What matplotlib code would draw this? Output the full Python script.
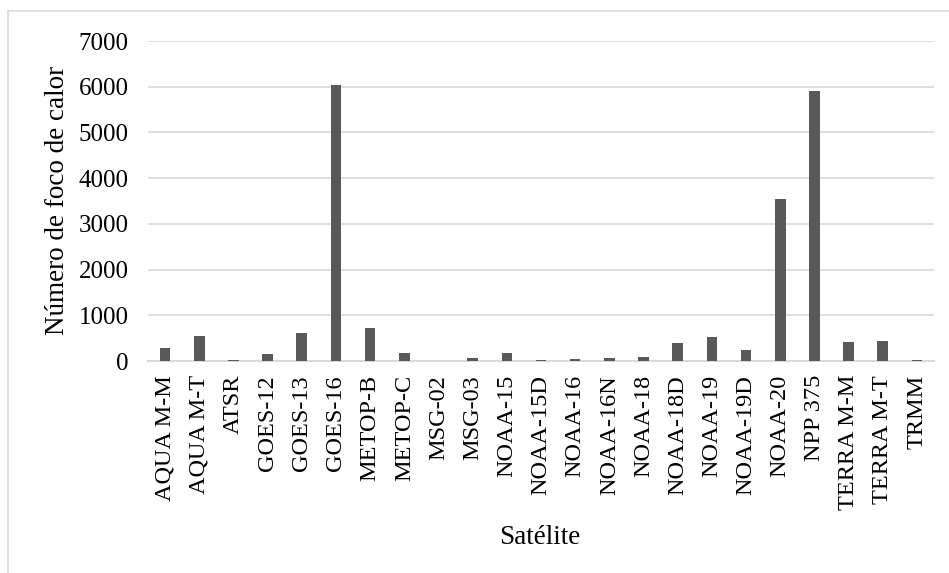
import matplotlib
matplotlib.use("Agg")
import matplotlib.pyplot as plt
from matplotlib.lines import Line2D

satelites = ["AQUA M-M", "AQUA M-T", "ATSR", "GOES-12", "GOES-13", "GOES-16",
             "METOP-B", "METOP-C", "MSG-02", "MSG-03", "NOAA-15", "NOAA-15D",
             "NOAA-16", "NOAA-16N", "NOAA-18", "NOAA-18D", "NOAA-19", "NOAA-19D",
             "NOAA-20", "NPP 375", "TERRA M-M", "TERRA M-T", "TRMM"]
focos = [290, 545, 20, 145, 610, 6030,
         712, 168, 0, 65, 168, 15,
         44, 65, 80, 400, 515, 233,
         3545, 5900, 407, 436, 15]
yticks = [0, 1000, 2000, 3000, 4000, 5000, 6000, 7000]

plt.rcParams['font.family'] = ['Liberation Serif', 'DejaVu Serif']

fig = plt.figure(figsize=(9.49, 5.73), dpi=100)
ax = fig.add_axes([148 / 949, 1 - 361 / 573, 786 / 949, 320 / 573])

x = list(range(len(satelites)))
ax.bar(x, focos, width=0.31, color="#595959", zorder=3)

ax.set_xlim(-0.5, len(satelites) - 0.5)
ax.set_ylim(0, 7000)
ax.set_yticks(yticks)
ax.set_xticks(x)
ax.set_xticklabels(satelites, rotation=90, fontsize=17.5)
ax.tick_params(axis="y", labelsize=18, length=0, pad=14)
ax.tick_params(axis="x", length=0, pad=10)
ax.grid(axis="y", color="#d9d9d9", linewidth=1.2, zorder=0)

for s in ["top", "right", "left"]:
    ax.spines[s].set_visible(False)
ax.spines["bottom"].set_color("#d9d9d9")
ax.spines["bottom"].set_linewidth(1.5)

fig.text(58 / 949, 1 - 200 / 573, "Número de foco de calor", fontsize=19.5,
         rotation=90, ha="center", va="center")
fig.text(540 / 949, 1 - 538 / 573, "Satélite", fontsize=19.5, ha="center", va="center")

# moldura do gráfico
fig.add_artist(Line2D([7.5 / 949, 7.5 / 949], [0, 1 - 11 / 573], color="#d9d9d9", lw=1.2))
fig.add_artist(Line2D([7.5 / 949, 1], [1 - 11 / 573, 1 - 11 / 573], color="#d9d9d9", lw=1.2))

fig.savefig("out.png", dpi=100)
